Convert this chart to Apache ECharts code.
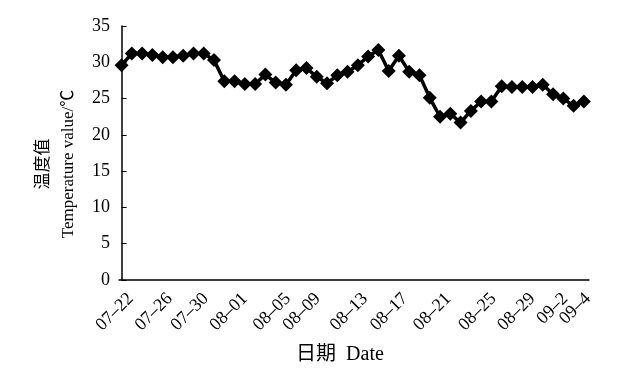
<!DOCTYPE html>
<html>
<head>
<meta charset="utf-8">
<script src="https://cdn.jsdelivr.net/npm/echarts@6/dist/echarts.min.js"></script>
<style>
html,body{margin:0;padding:0;background:#fff;}
#chart{width:639px;height:374px;}
</style>
</head>
<body>
<div id="chart"></div>
<script>
// Temperature values (°C), one per day, in order
const temperature = [
  29.6, 31.2, 31.2, 31.0, 30.7, 30.7, 30.9, 31.2, 31.2, 30.3,
  27.4, 27.4, 27.0, 27.0, 28.3, 27.2, 26.9, 28.9, 29.2, 28.0,
  27.1, 28.2, 28.7, 29.6, 30.8, 31.7, 28.8, 30.9, 28.7, 28.2,
  25.1, 22.5, 22.9, 21.7, 23.3, 24.6, 24.6, 26.7, 26.6, 26.6,
  26.6, 26.9, 25.6, 25.0, 24.0, 24.6
];
// x-axis tick labels and where they sit (in day-index units)
const tickLabels = ['07\u201322','07\u201326','07\u201330','08\u201301','08\u201305','08\u201309','08\u201313','08\u201317','08\u201321','08\u201325','08\u201329','09\u20132','09\u20134'];
const tickPos = [0.9, 4.7, 8.2, 12.0, 16.2, 19.1, 23.7, 27.6, 31.8, 36.2, 40.0, 43.2, 45.4];
const yTicks = [0, 5, 10, 15, 20, 25, 30, 35];

const serif = '"Liberation Serif", "Times New Roman", "Noto Sans CJK SC", serif';
const points = temperature.map((v, i) => [i, v]);
const xMax = 45.5;
// an empty label at the axis end keeps the min/max overlap check from hiding a real label
const labelValues = tickPos.concat([xMax]);

const chart = echarts.init(document.getElementById('chart'), null, {renderer: 'canvas'});
chart.setOption({
  animation: false,
  backgroundColor: '#fff',
  grid: {left: 119, right: 50, top: 26, bottom: 94, containLabel: false},
  xAxis: {
    type: 'value',
    min: -0.25,
    max: xMax,
    name: '日期  Date',
    nameLocation: 'middle',
    nameGap: 65,
    nameTextStyle: {fontFamily: serif, fontSize: 20, color: '#000', padding: [0, 28, 0, 0]},
    axisLine: {show: true, lineStyle: {color: '#000', width: 1.5}},
    axisTick: {show: false},
    splitLine: {show: false},
    axisLabel: {
      customValues: labelValues,
      rotate: 45,
      margin: 16,
      hideOverlap: false,
      fontFamily: serif,
      fontSize: 18,
      color: '#000',
      formatter: function (val) {
        let k = -1, best = 1e9;
        tickPos.forEach((p, i) => { const d = Math.abs(p - val); if (d < best) { best = d; k = i; } });
        return best < 0.05 ? tickLabels[k] : '';
      }
    }
  },
  yAxis: {
    type: 'value',
    min: yTicks[0],
    max: yTicks[yTicks.length - 1],
    interval: 5,
    name: '温度值\nTemperature value/\u2103',
    nameLocation: 'middle',
    nameGap: 34,
    nameRotate: 90,
    nameTextStyle: {fontFamily: serif, fontSize: 17, color: '#000', lineHeight: 25, padding: [0, 22, 0, 0]},
    axisLine: {show: true, lineStyle: {color: '#000', width: 1.5}},
    axisTick: {show: true, inside: true, length: 5, lineStyle: {color: '#000', width: 1}},
    splitLine: {show: false},
    axisLabel: {margin: 9, fontFamily: serif, fontSize: 18, color: '#000'}
  },
  series: [{
    type: 'line',
    data: points,
    symbol: 'diamond',
    symbolSize: 14,
    lineStyle: {color: '#000', width: 3.5},
    itemStyle: {color: '#000'},
    z: 3
  }]
});
</script>
</body>
</html>
